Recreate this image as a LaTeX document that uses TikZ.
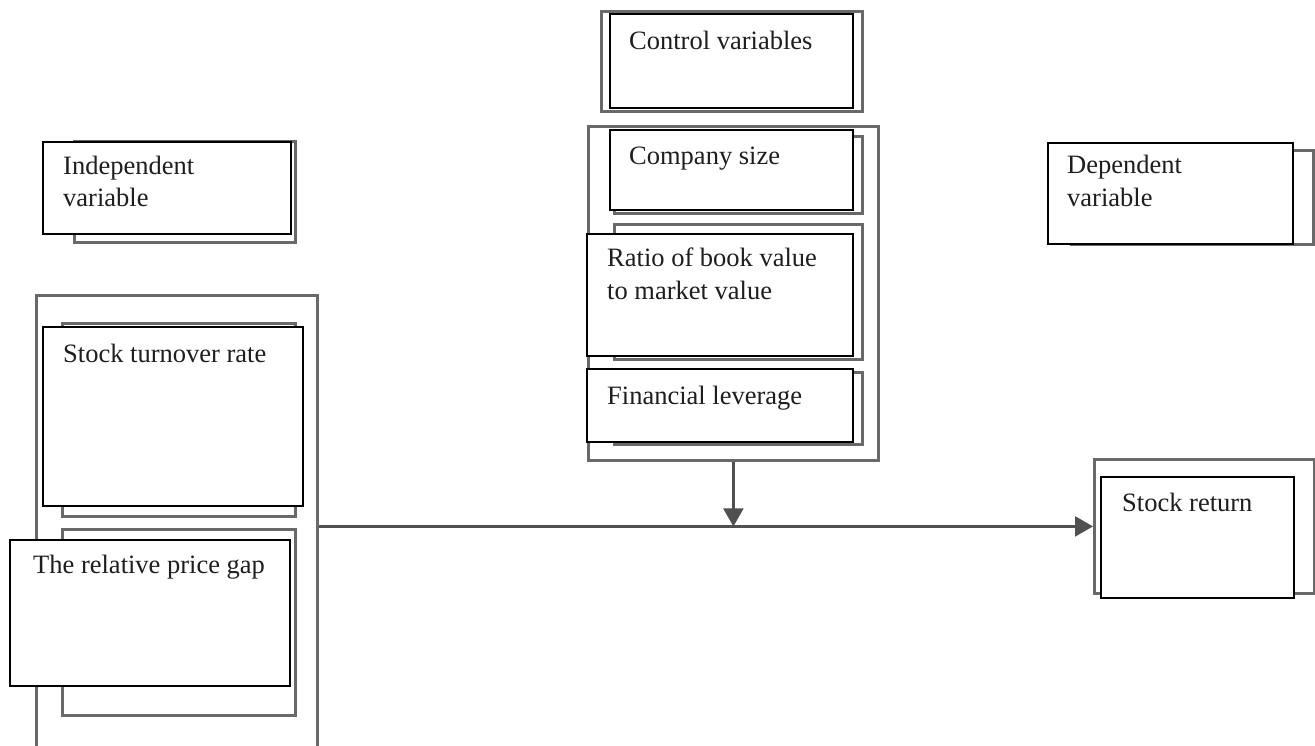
\documentclass[tikz,border=0pt]{standalone}
\usepackage{fontspec}
\setmainfont{Liberation Serif}
\usetikzlibrary{arrows.meta}
\definecolor{framegray}{RGB}{105,105,105}
\definecolor{linegray}{RGB}{80,80,80}
\definecolor{txt}{RGB}{30,30,30}
\tikzset{
  grayframe/.style={draw=framegray, line width=2.8pt, fill=white, rectangle, inner sep=0pt, anchor=north west},
  blackbox/.style={draw=black, line width=2.2pt, fill=white, rectangle, inner sep=0pt, anchor=north west},
  lbl/.style={anchor=base west, inner sep=0pt, text=txt, font=\fontsize{26.5}{32}\selectfont},
  conn/.style={draw=linegray, line width=2.4pt, -{Triangle[length=18pt,width=20pt]}, shorten >=0pt}
}
\newcommand{\gbox}[5]{\node[grayframe, minimum width=#4-#2, minimum height=#5-#3] (#1) at (#2,#3) {};}
\newcommand{\bbox}[5]{\node[blackbox, minimum width=#4-#2, minimum height=#5-#3] (#1) at (#2,#3) {};}
\begin{document}
\begin{tikzpicture}[x=1pt,y=-1pt]
\useasboundingbox (0,0) rectangle (1315,746);
\clip (0,0) rectangle (1315,746);
\fill[white] (0,0) rectangle (1315,746);
% control group
\gbox{ctrlTitleShadow}{600}{10}{861}{110}
\bbox{ctrlTitle}{609}{13}{852}{107}
\gbox{ctrlOuter}{587}{125}{877}{459}
\gbox{sizeShadow}{613}{135}{861}{212}
\bbox{size}{609}{129}{852}{209}
\gbox{ratioShadow}{613}{223}{861}{358}
\bbox{ratio}{586}{233}{852}{355}
\gbox{levShadow}{613}{371}{861}{443}
\bbox{lev}{586}{368}{852}{441}
% independent
\gbox{indepShadow}{73}{140}{294}{241}
\bbox{indep}{42}{141}{290}{233}
\gbox{leftOuter}{35}{294}{316}{756}
\gbox{turnShadow}{61}{322}{294}{515}
\bbox{turn}{42}{326}{302}{505}
\gbox{gapShadow}{61}{528}{294}{714}
\bbox{gap}{9}{539}{289}{685}
% dependent
\gbox{depShadow}{1070}{149}{1312}{243}
\bbox{dep}{1047}{142}{1292}{243}
\gbox{retOuter}{1093}{458}{1313}{592}
\bbox{ret}{1100}{476}{1293}{597}
% texts
\node[lbl] (tCtrl) at (629,50) {Control variables};
\node[lbl] (tSize) at (629,165) {Company size};
\node[lbl] (tRatio1) at (607,267) {Ratio of book value};
\node[lbl] (tRatio2) at (607,299) {to market value};
\node[lbl] (tLev) at (607,404) {Financial leverage};
\node[lbl] (tInd1) at (63,175) {Independent};
\node[lbl] (tInd2) at (63,207) {variable};
\node[lbl] (tTurn) at (63,362) {Stock turnover rate};
\node[lbl] (tGap) at (33,573) {The relative price gap};
\node[lbl] (tDep1) at (1067,174) {Dependent};
\node[lbl] (tDep2) at (1067,207) {variable};
\node[lbl] (tRet) at (1122,511) {Stock return};
% connectors
\coordinate (join) at (ctrlOuter.south |- leftOuter.east);
\draw[conn] (leftOuter.east) -- (retOuter.west);
\draw[conn] (ctrlOuter.south) -- (join);
\end{tikzpicture}
\end{document}
